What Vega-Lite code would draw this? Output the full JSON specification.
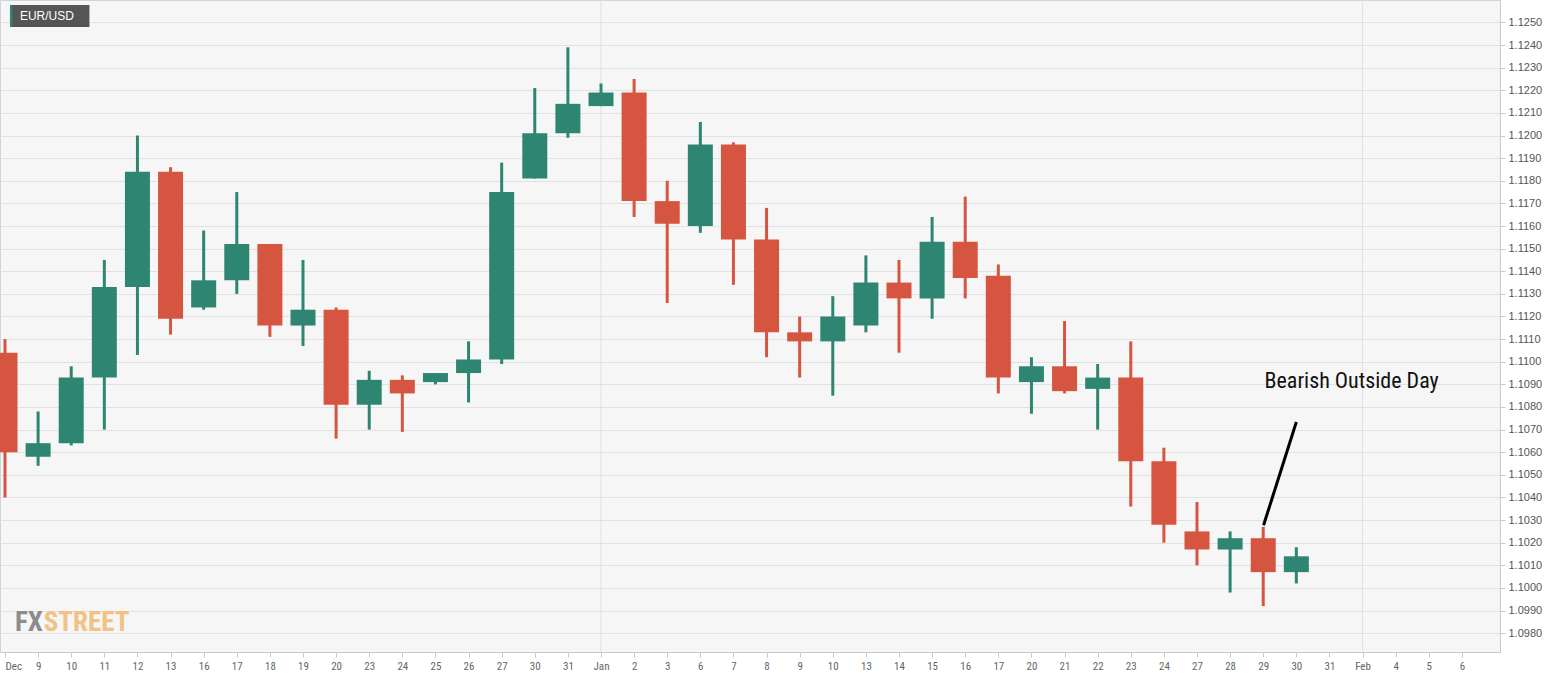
{
  "$schema": "https://vega.github.io/schema/vega-lite/v6.json",
  "width": 1500,
  "height": 652,
  "autosize": {"type": "none"},
  "padding": {"left": 0, "top": 0, "right": 65, "bottom": 26},
  "background": "#ffffff",
  "config": {"view": {"fill": "#f6f6f6", "stroke": "#d3d3e0", "strokeWidth": 1}},
  "datasets": {
    "ohlc": [
      {"date": "2019-12-06", "i": 0, "open": 1.1104, "high": 1.1110, "low": 1.1040, "close": 1.1060},
      {"date": "2019-12-09", "i": 1, "open": 1.1058, "high": 1.1078, "low": 1.1054, "close": 1.1064},
      {"date": "2019-12-10", "i": 2, "open": 1.1064, "high": 1.1098, "low": 1.1063, "close": 1.1093},
      {"date": "2019-12-11", "i": 3, "open": 1.1093, "high": 1.1145, "low": 1.1070, "close": 1.1133},
      {"date": "2019-12-12", "i": 4, "open": 1.1133, "high": 1.1200, "low": 1.1103, "close": 1.1184},
      {"date": "2019-12-13", "i": 5, "open": 1.1184, "high": 1.1186, "low": 1.1112, "close": 1.1119},
      {"date": "2019-12-16", "i": 6, "open": 1.1124, "high": 1.1158, "low": 1.1123, "close": 1.1136},
      {"date": "2019-12-17", "i": 7, "open": 1.1136, "high": 1.1175, "low": 1.1130, "close": 1.1152},
      {"date": "2019-12-18", "i": 8, "open": 1.1152, "high": 1.1152, "low": 1.1111, "close": 1.1116},
      {"date": "2019-12-19", "i": 9, "open": 1.1116, "high": 1.1145, "low": 1.1107, "close": 1.1123},
      {"date": "2019-12-20", "i": 10, "open": 1.1123, "high": 1.1124, "low": 1.1066, "close": 1.1081},
      {"date": "2019-12-23", "i": 11, "open": 1.1081, "high": 1.1096, "low": 1.1070, "close": 1.1092},
      {"date": "2019-12-24", "i": 12, "open": 1.1092, "high": 1.1094, "low": 1.1069, "close": 1.1086},
      {"date": "2019-12-25", "i": 13, "open": 1.1091, "high": 1.1095, "low": 1.1090, "close": 1.1095},
      {"date": "2019-12-26", "i": 14, "open": 1.1095, "high": 1.1109, "low": 1.1082, "close": 1.1101},
      {"date": "2019-12-27", "i": 15, "open": 1.1101, "high": 1.1188, "low": 1.1099, "close": 1.1175},
      {"date": "2019-12-30", "i": 16, "open": 1.1181, "high": 1.1221, "low": 1.1181, "close": 1.1201},
      {"date": "2019-12-31", "i": 17, "open": 1.1201, "high": 1.1239, "low": 1.1199, "close": 1.1214},
      {"date": "2020-01-01", "i": 18, "open": 1.1213, "high": 1.1223, "low": 1.1213, "close": 1.1219},
      {"date": "2020-01-02", "i": 19, "open": 1.1219, "high": 1.1225, "low": 1.1164, "close": 1.1171},
      {"date": "2020-01-03", "i": 20, "open": 1.1171, "high": 1.1180, "low": 1.1126, "close": 1.1161},
      {"date": "2020-01-06", "i": 21, "open": 1.1160, "high": 1.1206, "low": 1.1157, "close": 1.1196},
      {"date": "2020-01-07", "i": 22, "open": 1.1196, "high": 1.1197, "low": 1.1134, "close": 1.1154},
      {"date": "2020-01-08", "i": 23, "open": 1.1154, "high": 1.1168, "low": 1.1102, "close": 1.1113},
      {"date": "2020-01-09", "i": 24, "open": 1.1113, "high": 1.1120, "low": 1.1093, "close": 1.1109},
      {"date": "2020-01-10", "i": 25, "open": 1.1109, "high": 1.1129, "low": 1.1085, "close": 1.1120},
      {"date": "2020-01-13", "i": 26, "open": 1.1116, "high": 1.1147, "low": 1.1113, "close": 1.1135},
      {"date": "2020-01-14", "i": 27, "open": 1.1135, "high": 1.1145, "low": 1.1104, "close": 1.1128},
      {"date": "2020-01-15", "i": 28, "open": 1.1128, "high": 1.1164, "low": 1.1119, "close": 1.1153},
      {"date": "2020-01-16", "i": 29, "open": 1.1153, "high": 1.1173, "low": 1.1128, "close": 1.1137},
      {"date": "2020-01-17", "i": 30, "open": 1.1138, "high": 1.1143, "low": 1.1086, "close": 1.1093},
      {"date": "2020-01-20", "i": 31, "open": 1.1091, "high": 1.1102, "low": 1.1077, "close": 1.1098},
      {"date": "2020-01-21", "i": 32, "open": 1.1098, "high": 1.1118, "low": 1.1086, "close": 1.1087},
      {"date": "2020-01-22", "i": 33, "open": 1.1088, "high": 1.1099, "low": 1.1070, "close": 1.1093},
      {"date": "2020-01-23", "i": 34, "open": 1.1093, "high": 1.1109, "low": 1.1036, "close": 1.1056},
      {"date": "2020-01-24", "i": 35, "open": 1.1056, "high": 1.1062, "low": 1.1020, "close": 1.1028},
      {"date": "2020-01-27", "i": 36, "open": 1.1025, "high": 1.1038, "low": 1.1010, "close": 1.1017},
      {"date": "2020-01-28", "i": 37, "open": 1.1017, "high": 1.1025, "low": 1.0998, "close": 1.1022},
      {"date": "2020-01-29", "i": 38, "open": 1.1022, "high": 1.1027, "low": 1.0992, "close": 1.1007},
      {"date": "2020-01-30", "i": 39, "open": 1.1007, "high": 1.1018, "low": 1.1002, "close": 1.1014}
    ],
    "months": [{"i": 18}, {"i": 41}],
    "pointer": [{"x1": 39.0, "y1": 1.10734, "x2": 38.01, "y2": 1.10277}],
    "note": [{"i": 38.04, "v": 1.10915, "text": "Bearish Outside Day"}],
    "tag": [{"x1": 0.15, "x2": 2.55, "y1": 1.12577, "y2": 1.1248, "s2": 0.22, "tx": 0.45, "ty": 1.12528, "text": "EUR/USD"}],
    "brand": [{"i": 0.3, "v": 1.0981, "text": "FX", "part": "a"}, {"i": 1.17, "v": 1.0981, "text": "STREET", "part": "b"}]
  },
  "layer": [
    {
      "data": {"name": "months"},
      "mark": {"type": "rule", "color": "#e0e0e6", "strokeWidth": 1},
      "encoding": {
        "x": {
          "field": "i", "type": "quantitative",
          "scale": {"domain": [0, 45], "nice": false, "zero": false},
          "axis": {
            "values": [0,1,2,3,4,5,6,7,8,9,10,11,12,13,14,15,16,17,18,19,20,21,22,23,24,25,26,27,28,29,30,31,32,33,34,35,36,37,38,39,40,41,42,43,44],
            "tickCount": 100,
            "labelExpr": "['Dec','9','10','11','12','13','16','17','18','19','20','23','24','25','26','27','30','31','Jan','2','3','6','7','8','9','10','13','14','15','16','17','20','21','22','23','24','27','28','29','30','31','Feb','4','5','6'][datum.value]",
            "title": null, "grid": false,
            "domainColor": "#c9c9d6", "tickColor": "#c9c9d6", "tickSize": 5,
            "labelColor": "#666666", "labelFontSize": 11,
            "labelFont": "Liberation Sans Narrow, Arial Narrow, Roboto Condensed, Liberation Sans, sans-serif",
            "labelFlush": false,
            "labelAlign": {"condition": {"test": "datum.value == 0", "value": "left"}, "value": "center"},
            "labelOverlap": false, "labelPadding": 3
          }
        }
      }
    },
    {
      "data": {"name": "ohlc"},
      "mark": {"type": "rule", "strokeWidth": 3, "clip": true},
      "encoding": {
        "x": {"field": "i", "type": "quantitative"},
        "y": {
          "field": "low", "type": "quantitative",
          "scale": {"domain": [1.09717, 1.12599], "nice": false, "zero": false},
          "axis": {
            "orient": "right",
            "values": [1.098,1.099,1.1,1.101,1.102,1.103,1.104,1.105,1.106,1.107,1.108,1.109,1.11,1.111,1.112,1.113,1.114,1.115,1.116,1.117,1.118,1.119,1.12,1.121,1.122,1.123,1.124,1.125],
            "tickCount": 100,
            "format": ".4f", "title": null, "grid": true, "gridColor": "#e1e1e1",
            "domainColor": "#c9c9d6", "tickColor": "#c9c9d6", "tickSize": 5,
            "labelColor": "#555555", "labelFontSize": 11, "labelOverlap": false,
            "labelFont": "Liberation Sans, Arial, sans-serif", "labelPadding": 3
          }
        },
        "y2": {"field": "high"},
        "color": {"condition": {"test": "datum.close >= datum.open", "value": "#2e8672"}, "value": "#d65541"}
      }
    },
    {
      "data": {"name": "ohlc"},
      "mark": {"type": "bar", "width": 25, "clip": true},
      "encoding": {
        "x": {"field": "i", "type": "quantitative"},
        "y": {"field": "open", "type": "quantitative"},
        "y2": {"field": "close"},
        "color": {"condition": {"test": "datum.close >= datum.open", "value": "#2e8672"}, "value": "#d65541"}
      }
    },
    {
      "data": {"name": "pointer"},
      "mark": {"type": "rule", "color": "#000000", "strokeWidth": 3},
      "encoding": {
        "x": {"field": "x1", "type": "quantitative"},
        "y": {"field": "y1", "type": "quantitative"},
        "x2": {"field": "x2"},
        "y2": {"field": "y2"}
      }
    },
    {
      "data": {"name": "note"},
      "mark": {"type": "text", "align": "left", "baseline": "middle", "fontSize": 22, "color": "#111111", "font": "Liberation Sans Narrow, Arial Narrow, Roboto Condensed, Liberation Sans, sans-serif"},
      "encoding": {
        "x": {"field": "i", "type": "quantitative"},
        "y": {"field": "v", "type": "quantitative"},
        "text": {"field": "text"}
      }
    },
    {
      "data": {"name": "tag"},
      "mark": {"type": "rect", "color": "#555555"},
      "encoding": {
        "x": {"field": "x1", "type": "quantitative"},
        "x2": {"field": "x2"},
        "y": {"field": "y1", "type": "quantitative"},
        "y2": {"field": "y2"}
      }
    },
    {
      "data": {"name": "tag"},
      "mark": {"type": "rect", "color": "#2e8672"},
      "encoding": {
        "x": {"field": "x1", "type": "quantitative"},
        "x2": {"field": "s2"},
        "y": {"field": "y1", "type": "quantitative"},
        "y2": {"field": "y2"}
      }
    },
    {
      "data": {"name": "tag"},
      "mark": {"type": "text", "align": "left", "baseline": "middle", "fontSize": 12, "color": "#ffffff", "font": "Liberation Sans, Arial, sans-serif"},
      "encoding": {
        "x": {"field": "tx", "type": "quantitative"},
        "y": {"field": "ty", "type": "quantitative"},
        "text": {"field": "text"}
      }
    },
    {
      "data": {"name": "brand"},
      "mark": {"type": "text", "align": "left", "baseline": "alphabetic", "fontSize": 27, "fontWeight": "bold", "font": "Liberation Sans Narrow, Arial Narrow, Roboto Condensed, Liberation Sans, sans-serif"},
      "encoding": {
        "x": {"field": "i", "type": "quantitative"},
        "y": {"field": "v", "type": "quantitative"},
        "text": {"field": "text"},
        "color": {"condition": {"test": "datum.part == 'a'", "value": "#8c8c8c"}, "value": "#f0c284"}
      }
    }
  ]
}
